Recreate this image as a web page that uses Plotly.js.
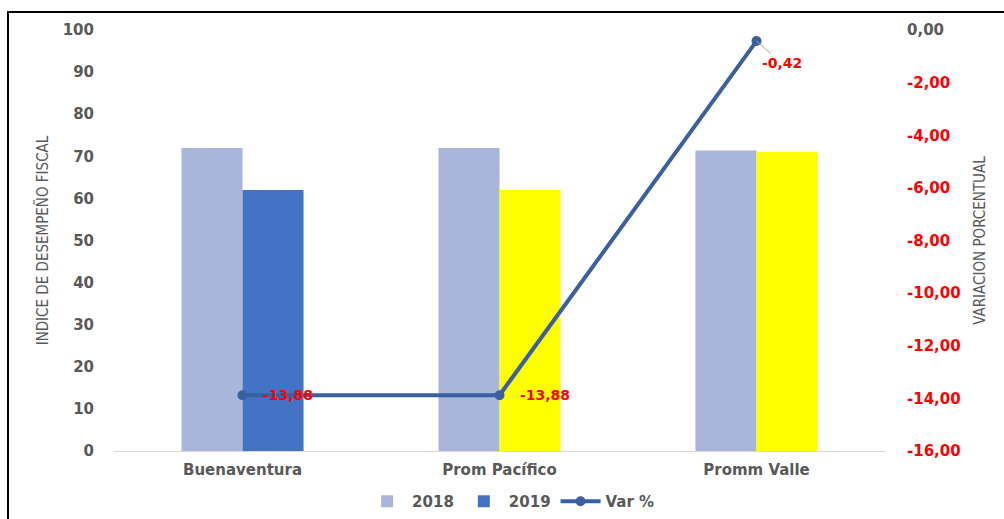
<!DOCTYPE html>
<html><head><meta charset="utf-8">
<script src="https://cdn.plot.ly/plotly-3.0.1.min.js"></script>
<style>
html,body{margin:0;padding:0;overflow:hidden;background:#fff;}
#frame{position:absolute;left:7px;top:11px;width:1200px;height:700px;border-top:2px solid #000;border-left:2px solid #000;pointer-events:none;z-index:5;}
#chart{position:absolute;left:0;top:0;width:1004px;height:519px;}
</style></head>
<body>
<div id="chart"></div>
<div id="frame"></div>
<script>
const categories = ["Buenaventura", "Prom Pacífico", "Promm Valle"];
const values2018 = [72.0, 72.0, 71.4];
const values2019 = [62.0, 62.0, 71.1];
const colors2019 = ["#4472C4", "#FFFF00", "#FFFF00"];
const varPct = [-13.88, -13.88, -0.42];
const rightTicks = [0, -2, -4, -6, -8, -10, -12, -14, -16];

const fmt = v => v.toFixed(2).replace('.', ',');
const tickFont = {family: "DejaVu Sans", size: 15, color: "#595959", weight: "bold"};
const gray = "#595959";

const traces = [
  {type: "bar", name: "2018", x: categories, y: values2018, marker: {color: "#A9B6DB"}, hoverinfo: "none"},
  {type: "bar", name: "2019", x: categories, y: values2019, marker: {color: colors2019}, hoverinfo: "none"},
  {type: "scatter", name: "Var %", x: categories, y: varPct, yaxis: "y2", mode: "lines+markers",
   line: {color: "#3B5FA3", width: 4}, marker: {color: "#3B5FA3", size: 10}, hoverinfo: "none"}
];

const annotations = varPct.map((v, i) => {
  const last = i === varPct.length - 1;
  return {
    x: categories[i], y: v, xref: "x", yref: "y2",
    text: "<b>" + fmt(v) + "</b>",
    font: {family: "DejaVu Sans", size: 14, color: "#FF0000"},
    showarrow: last,
    arrowhead: 0, arrowwidth: 1, arrowcolor: "#A6A6A6",
    ax: last ? 25 : 0, ay: last ? 22 : 0,
    xanchor: last ? "center" : "left", yanchor: "middle",
    xshift: last ? 0 : 18
  };
});

const layout = {
  width: 1004, height: 519,
  margin: {l: 114, r: 119, t: 30, b: 68, autoexpand: false},
  paper_bgcolor: "#fff", plot_bgcolor: "#fff",
  barmode: "group", bargap: 0.525, bargroupgap: 0,
  showlegend: true,
  legend: {orientation: "h", x: 0.515, xanchor: "center", y: -0.12, yanchor: "middle",
           font: tickFont, traceorder: "normal", itemwidth: 40},
  xaxis: {type: "category", tickfont: tickFont, showgrid: false, showline: true,
          linecolor: "#D9D9D9", linewidth: 1, ticks: "outside", ticklen: 5, tickcolor: "rgba(0,0,0,0)"},
  yaxis: {range: [0, 100], dtick: 10, tickfont: tickFont, showgrid: false, zeroline: false,
          ticks: "outside", ticklen: 16, tickcolor: "rgba(0,0,0,0)",
          title: {text: "INDICE DE DESEMPEÑO FISCAL", standoff: 10,
                  font: {family: "Liberation Sans Narrow, DejaVu Sans Condensed", size: 15, color: gray}}},
  yaxis2: {overlaying: "y", side: "right", range: [-16, 0], tickvals: rightTicks,
           ticktext: rightTicks.map(v => v === 0 ? fmt(v) : '<span style="color:#FF0000">' + fmt(v) + '</span>'),
           tickfont: tickFont, showgrid: false, zeroline: false,
           ticks: "outside", ticklen: 18, tickcolor: "rgba(0,0,0,0)",
           title: {text: "VARIACION PORCENTUAL", standoff: 14,
                   font: {family: "Liberation Sans Narrow, DejaVu Sans Condensed", size: 15, color: gray}}},
  annotations: annotations
};

Plotly.newPlot("chart", traces, layout, {displayModeBar: false, staticPlot: true});
</script>
</body></html>
